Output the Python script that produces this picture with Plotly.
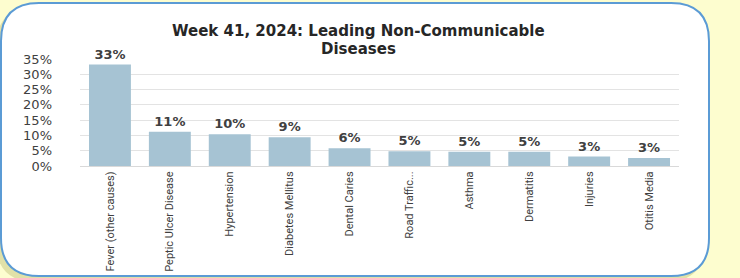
import plotly.graph_objects as go

categories = ["Fever (other causes)", "Peptic Ulcer Disease", "Hypertension",
              "Diabetes Mellitus", "Dental Caries", "Road Traffic...", "Asthma",
              "Dermatitis", "Injuries", "Otitis Media"]
values = [0.332, 0.112, 0.104, 0.094, 0.058, 0.048, 0.047, 0.047, 0.031, 0.026]
y_ticks = [0, 0.05, 0.10, 0.15, 0.20, 0.25, 0.30, 0.35]
y_tick_labels = ["0%", "5%", "10%", "15%", "20%", "25%", "30%", "35%"]
title_lines = ["Week 41, 2024: Leading Non-Communicable", "Diseases"]

W, H = 740, 278
L, R, T, B = 80, 61, 59, 112
pw, ph = W - L - R, H - T - B


def px(x):
    return (x - L) / pw


def py(y):
    return (H - B - y) / ph


def rrect(x0, y0, x1, y1, r):
    return (f"M {px(x0 + r)},{py(y0)} L {px(x1 - r)},{py(y0)} "
            f"Q {px(x1)},{py(y0)} {px(x1)},{py(y0 + r)} "
            f"L {px(x1)},{py(y1 - r)} Q {px(x1)},{py(y1)} {px(x1 - r)},{py(y1)} "
            f"L {px(x0 + r)},{py(y1)} Q {px(x0)},{py(y1)} {px(x0)},{py(y1 - r)} "
            f"L {px(x0)},{py(y0 + r)} Q {px(x0)},{py(y0)} {px(x0 + r)},{py(y0)} Z")


fig = go.Figure(go.Bar(
    x=categories, y=values,
    marker=dict(color="#a6c3d3", line=dict(width=0)),
    texttemplate="%{y:.0%}", textposition="outside", cliponaxis=False,
    textfont=dict(family="DejaVu Sans", size=13, color="#404040", weight="bold"),
    width=0.7,
))

fig.add_shape(type="path", xref="paper", yref="paper", layer="below",
              path=rrect(-4, 7, 705, 282, 40),
              fillcolor="rgba(190,190,120,0.45)", line=dict(width=0))
fig.add_shape(type="path", xref="paper", yref="paper", layer="below",
              path=rrect(1, 3, 709, 276, 38),
              fillcolor="white", line=dict(color="#5b9bd5", width=2))

fig.add_annotation(text=title_lines[0], xref="paper", yref="paper",
                   x=px(358), y=py(20), showarrow=False,
                   font=dict(family="DejaVu Sans", size=15, color="#262626", weight="bold"))
fig.add_annotation(text=title_lines[1], xref="paper", yref="paper",
                   x=px(358), y=py(38), showarrow=False,
                   font=dict(family="DejaVu Sans", size=15, color="#262626", weight="bold"))

fig.update_layout(
    width=W, height=H, margin=dict(l=L, r=R, t=T, b=B),
    paper_bgcolor="#fdfdcf", plot_bgcolor="rgba(0,0,0,0)",
    showlegend=False,
)
fig.update_xaxes(tickangle=-90, showgrid=False, showline=True, linecolor="#d9d9d9",
                 ticks="", automargin=False,
                 tickfont=dict(family="Roboto", size=11, color="#404040"))
fig.update_yaxes(range=[0, 0.35], tickvals=y_ticks, ticktext=y_tick_labels,
                 showgrid=True, gridcolor="#e3e3e3", zeroline=False,
                 ticks="", ticklabelstandoff=27, automargin=False,
                 tickfont=dict(family="DejaVu Sans", size=13, color="#404040"))

fig.write_html("out.html", config={"displayModeBar": False},
               post_script="document.body.style.margin='0';document.body.style.overflow='hidden';")
